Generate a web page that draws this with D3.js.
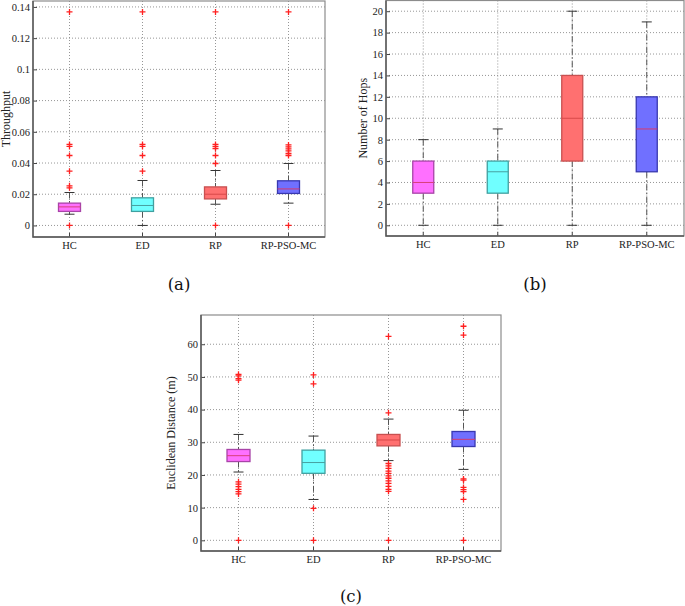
<!DOCTYPE html>
<html><head><meta charset="utf-8">
<script src="https://cdn.jsdelivr.net/npm/d3@7"></script>
<style>
html,body{margin:0;padding:0;background:#fff;}
svg{display:block;}
svg text{font-family:"Liberation Serif","Times New Roman",Times,"Nimbus Roman",serif;}
svg text.plabel{font-family:"DejaVu Serif",serif;}
</style></head>
<body>
<svg id="chart" width="685" height="606"></svg>
<script>
// ---------- DATA ----------
const categories = ["HC", "ED", "RP", "RP-PSO-MC"];

// (a) Throughput
const tpQ1  = [0.0090, 0.0090, 0.0170, 0.0205];
const tpMed = [0.0119, 0.0128, 0.0200, 0.0234];
const tpQ3  = [0.0143, 0.0177, 0.0247, 0.0286];
const tpLo  = [0.0072, 0.0000, 0.0136, 0.0143];
const tpHi  = [0.0211, 0.0288, 0.0352, 0.0397];
const tpOut = [
  [0, 0.0241, 0.0254, 0.0348, 0.0448, 0.0506, 0.0519, 0.1368],
  [0.0348, 0.0448, 0.0506, 0.0519, 0.1368],
  [0, 0.0397, 0.0448, 0.0493, 0.0506, 0.0519, 0.1368],
  [0, 0.0448, 0.0461, 0.0478, 0.0491, 0.0503, 0.0516, 0.1368]
];
const tpTicks = [0, 0.02, 0.04, 0.06, 0.08, 0.1, 0.12, 0.14];

// (b) Number of Hops
const hopQ1  = [3, 3, 6, 5];
const hopMed = [4, 5, 10, 9];
const hopQ3  = [6, 6, 14, 12];
const hopLo  = [0, 0, 0, 0];
const hopHi  = [8, 9, 20, 19];
const hopOut = [[], [], [], []];
const hopTicks = [0, 2, 4, 6, 8, 10, 12, 14, 16, 18, 20];

// (c) Euclidean Distance (m)
const edQ1  = [24.1, 20.5, 28.9, 28.7];
const edMed = [25.9, 23.8, 30.7, 30.9];
const edQ3  = [27.8, 27.6, 32.4, 33.3];
const edLo  = [20.9, 12.5, 24.4, 21.7];
const edHi  = [32.4, 31.9, 37.1, 39.8];
const edOut = [
  [0, 14.2, 14.9, 15.6, 16.4, 17.2, 17.9, 49.0, 49.5, 50.3, 50.8],
  [0, 9.8, 47.9, 50.6],
  [0, 15.0, 15.6, 16.5, 17.4, 18.2, 19.0, 19.7, 20.5, 21.2, 22.0, 22.8, 23.5, 39.0, 62.4],
  [0, 12.5, 14.9, 15.5, 16.2, 18.4, 18.8, 62.8, 65.5]
];
const edTicks = [0, 10, 20, 30, 40, 50, 60];

// styles
const fills   = ["#ff70ff", "#70ffff", "#ff7070", "#7070ff"];
const strokes = ["#a844a8", "#40a0a0", "#c85050", "#3838b0"];
const medCols = ["#d8407a", "#48a0a0", "#d84848", "#d83a6a"];

const svg = d3.select("#chart");

function fmt(v){ return String(+v.toFixed(4)); }

function panel(o){
  const g = svg.append("g");
  const x = d3.scaleBand().domain(categories).range([o.x0, o.x1]);
  const y = d3.scaleLinear().domain(o.domain).range([o.y1, o.y0]);
  const cx = c => x(c) + x.bandwidth()/2;
  const bw = o.boxW, cap = 10;

  // grid
  g.append("g").selectAll("line").data(o.ticks).join("line")
    .attr("x1", o.x0).attr("x2", o.x1)
    .attr("y1", d => y(d)).attr("y2", d => y(d))
    .attr("stroke", "#8a8a8a").attr("stroke-width", 0.9).attr("stroke-dasharray", "1,2");
  g.append("g").selectAll("line").data(categories).join("line")
    .attr("x1", d => cx(d)).attr("x2", d => cx(d))
    .attr("y1", o.y0).attr("y2", o.y1)
    .attr("stroke", "#8a8a8a").attr("stroke-width", 0.9).attr("stroke-dasharray", "1,2");

  // y axis ticks and labels
  const ya = d3.axisLeft(y).tickValues(o.ticks).tickSize(-4).tickPadding(3).tickFormat(fmt);
  const yg = g.append("g").attr("transform", `translate(${o.x0},0)`).call(ya);
  yg.attr("font-family", null);
  yg.select(".domain").remove();
  yg.selectAll(".tick line").attr("stroke", "#444");
  yg.selectAll("text").attr("font-size", 10.5).attr("fill", "#222");

  // x axis
  const xa = d3.axisBottom(x).tickSize(-4).tickPadding(5);
  const xg = g.append("g").attr("transform", `translate(0,${o.y1})`).call(xa);
  xg.attr("font-family", null);
  xg.select(".domain").remove();
  xg.selectAll(".tick line").attr("stroke", "#444");
  xg.selectAll("text").attr("font-size", 10.5).attr("fill", "#222");

  // boxes
  categories.forEach((c, i) => {
    const X = cx(c);
    g.append("line").attr("x1", X).attr("x2", X)
      .attr("y1", y(o.hi[i])).attr("y2", y(o.q3[i]))
      .attr("stroke", "#555").attr("stroke-width", 1).attr("stroke-dasharray", "6,2.5,1.5,2.5");
    g.append("line").attr("x1", X).attr("x2", X)
      .attr("y1", y(o.q1[i])).attr("y2", y(o.lo[i]))
      .attr("stroke", "#555").attr("stroke-width", 1).attr("stroke-dasharray", "6,2.5,1.5,2.5");
    [o.hi[i], o.lo[i]].forEach(v => {
      g.append("line").attr("x1", X - cap/2).attr("x2", X + cap/2)
        .attr("y1", y(v)).attr("y2", y(v))
        .attr("stroke", "#333").attr("stroke-width", 1);
    });
    g.append("rect").attr("x", X - bw/2).attr("width", bw)
      .attr("y", y(o.q3[i])).attr("height", y(o.q1[i]) - y(o.q3[i]))
      .attr("fill", fills[i]).attr("stroke", strokes[i]).attr("stroke-width", 1.3);
    g.append("line").attr("x1", X - bw/2).attr("x2", X + bw/2)
      .attr("y1", y(o.med[i])).attr("y2", y(o.med[i]))
      .attr("stroke", medCols[i]).attr("stroke-width", 1);
    g.append("g").selectAll("path").data(o.out[i]).join("path")
      .attr("d", d => `M${X-3},${y(d)}H${X+3}M${X},${y(d)-3}V${y(d)+3}`)
      .attr("stroke", "#ff2020").attr("stroke-width", 1.3).attr("fill", "none");
  });

  // frame
  g.append("rect").attr("x", o.x0).attr("y", o.y0)
    .attr("width", o.x1 - o.x0).attr("height", o.y1 - o.y0)
    .attr("fill", "none").attr("stroke", "#8c8c8c").attr("stroke-width", 1.2);
  g.append("path").attr("d", `M${o.x0},${o.y0}V${o.y1}H${o.x1}`)
    .attr("fill", "none").attr("stroke", "#555").attr("stroke-width", 1.4);

  // y title
  g.append("text").attr("transform", `translate(${o.titleX},${(o.y0+o.y1)/2}) rotate(-90)`)
    .attr("text-anchor", "middle").attr("font-size", 12).attr("fill", "#222")
    .attr("dominant-baseline", "central").text(o.title);

  // panel label
  g.append("text").attr("class", "plabel").attr("x", (o.x0+o.x1)/2).attr("y", o.labelY)
    .attr("text-anchor", "middle").attr("font-size", 16.5).attr("fill", "#111")
    .attr("dominant-baseline", "central").text(o.label);
}

panel({x0: 33, x1: 325, y0: 1, y1: 237, domain: [-0.0074, 0.1438], ticks: tpTicks,
  q1: tpQ1, med: tpMed, q3: tpQ3, lo: tpLo, hi: tpHi, out: tpOut, boxW: 22,
  title: "Throughput", titleX: 6, label: "(a)", labelY: 284});

panel({x0: 386, x1: 684, y0: 0.5, y1: 236, domain: [-1, 21], ticks: hopTicks,
  q1: hopQ1, med: hopMed, q3: hopQ3, lo: hopLo, hi: hopHi, out: hopOut, boxW: 21,
  title: "Number of Hops", titleX: 363, label: "(b)", labelY: 284});

panel({x0: 201, x1: 501, y0: 315, y1: 551, domain: [-3.27, 68.95], ticks: edTicks,
  q1: edQ1, med: edMed, q3: edQ3, lo: edLo, hi: edHi, out: edOut, boxW: 23,
  title: "Euclidean Distance (m)", titleX: 171, label: "(c)", labelY: 596});
</script>
</body></html>
